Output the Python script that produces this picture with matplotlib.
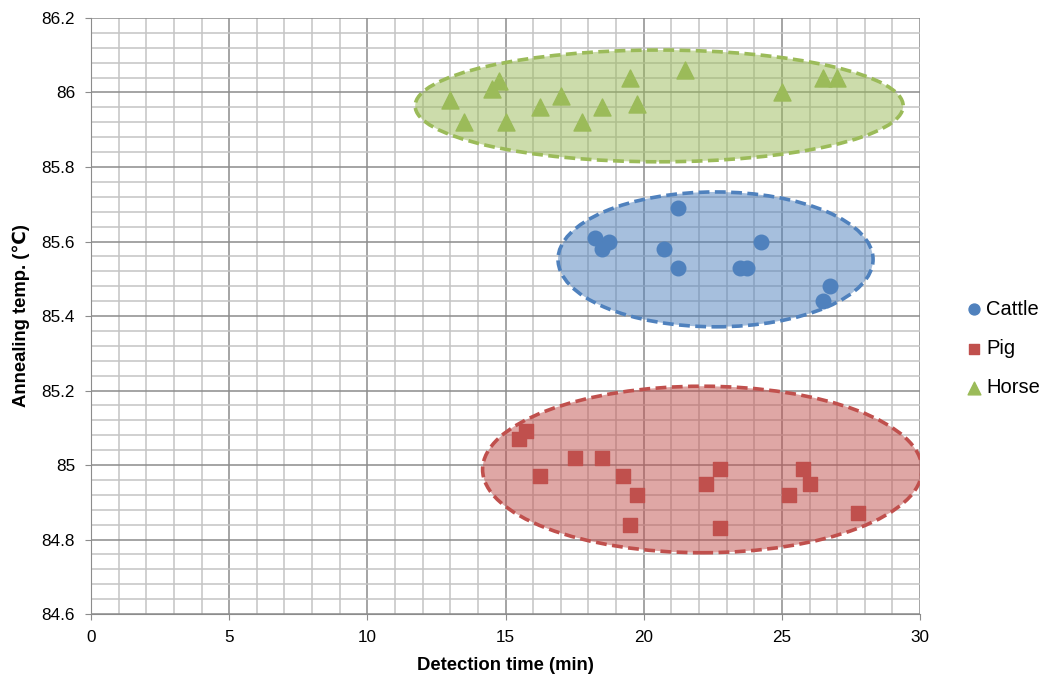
import matplotlib.pyplot as plt
from matplotlib.patches import Ellipse
from matplotlib.ticker import MultipleLocator

plt.rcParams['font.family'] = ['Liberation Sans', 'DejaVu Sans']

# detection time (min), annealing temp (C)
cattle_x = [18.25, 18.75, 18.5, 21.25, 20.75, 21.25, 23.5, 23.75, 24.25, 26.75, 26.5]
cattle_y = [85.61, 85.60, 85.58, 85.69, 85.58, 85.53, 85.53, 85.53, 85.60, 85.48, 85.44]

pig_x = [15.5, 15.75, 16.25, 17.5, 18.5, 19.25, 19.75, 19.5, 22.25, 22.75, 22.75, 25.25, 25.75, 26.0, 27.75]
pig_y = [85.07, 85.09, 84.97, 85.02, 85.02, 84.97, 84.92, 84.84, 84.95, 84.99, 84.83, 84.92, 84.99, 84.95, 84.87]

horse_x = [13.0, 13.5, 14.5, 14.75, 15.0, 16.25, 17.0, 17.75, 18.5, 19.5, 19.75, 21.5, 25.0, 26.5, 27.0]
horse_y = [85.98, 85.92, 86.01, 86.03, 85.92, 85.96, 85.99, 85.92, 85.96, 86.04, 85.97, 86.06, 86.00, 86.04, 86.04]

# hand drawn group ellipses: centre x, centre y, width, height
groups = {
    'Cattle': (22.6, 85.552, 11.4, 0.362),
    'Pig': (22.12, 84.988, 15.9, 0.447),
    'Horse': (20.56, 85.964, 17.66, 0.30),
}

colors = {'Cattle': '#4F81BD', 'Pig': '#C0504D', 'Horse': '#9BBB59'}

fig = plt.figure(figsize=(10.51, 6.79), dpi=100)
ax = fig.add_axes([0.0866, 0.0957, 0.7888, 0.8778])

for name, (cx, cy, w, h) in groups.items():
    e = Ellipse((cx, cy), w, h, facecolor=colors[name], alpha=0.5, edgecolor='none', zorder=2)
    ax.add_patch(e)
    e2 = Ellipse((cx, cy), w, h, facecolor='none', edgecolor=colors[name],
                 linewidth=2.6, linestyle=(0, (3, 1.5)), zorder=3)
    ax.add_patch(e2)

ax.scatter(cattle_x, cattle_y, s=110, marker='o', color=colors['Cattle'], label='Cattle', zorder=4)
ax.scatter(pig_x, pig_y, s=105, marker='s', color=colors['Pig'], label='Pig', zorder=4)
ax.scatter(horse_x, horse_y, s=150, marker='^', color=colors['Horse'], label='Horse', zorder=4)

ax.set_xlim(0, 30)
ax.set_ylim(84.6, 86.2)
ax.xaxis.set_major_locator(MultipleLocator(5))
ax.xaxis.set_minor_locator(MultipleLocator(1))
ax.yaxis.set_major_locator(MultipleLocator(0.2))
ax.yaxis.set_minor_locator(MultipleLocator(0.04))
ax.set_yticks([84.6, 84.8, 85.0, 85.2, 85.4, 85.6, 85.8, 86.0, 86.2])
ax.set_yticklabels(['84.6', '84.8', '85', '85.2', '85.4', '85.6', '85.8', '86', '86.2'])

ax.set_axisbelow(True)
ax.grid(which='major', color='#8c8c8c', linewidth=1.1)
ax.grid(which='minor', color='#c4c4c4', linewidth=1.1)
for s in ax.spines.values():
    s.set_visible(False)
ax.spines['left'].set_visible(True)
ax.spines['bottom'].set_visible(True)
ax.spines['left'].set_color('#8c8c8c')
ax.spines['bottom'].set_color('#8c8c8c')
ax.tick_params(which='major', length=4.5, color='#8c8c8c', labelsize=12.3)
ax.tick_params(axis='y', which='major', pad=7)
ax.tick_params(axis='x', which='major', pad=7)
ax.tick_params(which='minor', length=0)

ax.set_xlabel('Detection time (min)', fontsize=13.3, fontweight='bold', labelpad=9)
ax.set_ylabel('Annealing temp. (\u2103)', fontsize=13.3, fontweight='bold', labelpad=8)

fig.legend(loc='center left', bbox_to_anchor=(0.898, 0.487), frameon=False,
           fontsize=14.5, handletextpad=0.0, labelspacing=1.0, markerscale=0.75,
           handlelength=1.2)

fig.savefig('out.png', dpi=100)
